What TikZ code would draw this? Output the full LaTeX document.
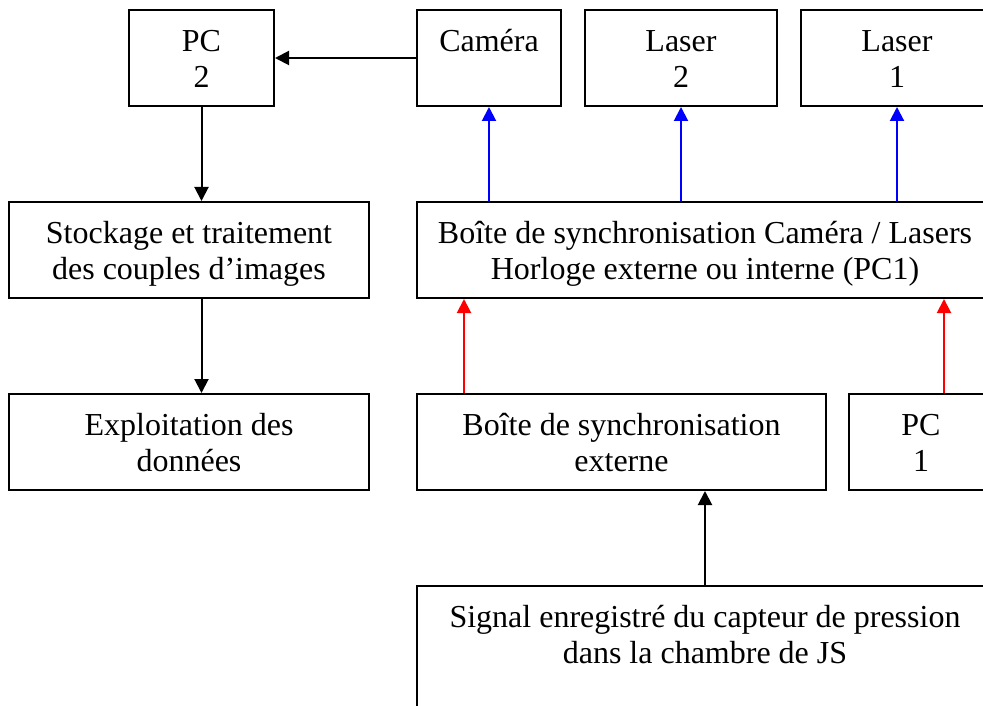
\documentclass[tikz,border=0pt]{standalone}
\usepackage{fontspec}
\setmainfont{Liberation Serif}
\usetikzlibrary{arrows.meta,calc}
\newcommand\tstrut{\rule{0pt}{30pt}}
\begin{document}
\begin{tikzpicture}[x=1pt,y=-1pt,
  box/.style={draw=black,line width=2pt,rectangle,inner sep=0pt},
  txt/.style={anchor=north,align=center,inner sep=0pt,font=\fontsize{32}{36.5}\selectfont},
  arr/.style={line width=2pt,-{Triangle[length=14pt,width=14pt]}},
]
\clip (0,0) rectangle (983,706);
\fill[white] (0,0) rectangle (983,706);
% row 1
\node[box,minimum width=145pt,minimum height=96pt] (pc2) at (201.5,58) {};
\node[box,minimum width=144pt,minimum height=96pt] (cam) at (489,58) {};
\node[box,minimum width=192pt,minimum height=96pt] (las2) at (681,58) {};
\node[box,minimum width=192pt,minimum height=96pt] (las1) at (897,58) {};
% row 2
\node[box,minimum width=360pt,minimum height=96pt] (sto) at (189,250) {};
\node[box,minimum width=576pt,minimum height=96pt] (syn) at (705,250) {};
% row 3
\node[box,minimum width=360pt,minimum height=96pt] (exp) at (189,442) {};
\node[box,minimum width=409pt,minimum height=96pt] (ext) at (621.5,442) {};
\node[box,minimum width=144pt,minimum height=96pt] (pc1) at (921,442) {};
% row 4
\node[box,minimum width=576pt,minimum height=134pt] (sig) at (705,653) {};
% texts
\node[txt] (tpc2) at ($(pc2.north)+(0,12)$) {\tstrut PC\\2};
\node[txt] (tcam) at ($(cam.north)+(0,12)$) {\tstrut Caméra};
\node[txt] (tlas2) at ($(las2.north)+(0,12)$) {\tstrut Laser\\2};
\node[txt] (tlas1) at ($(las1.north)+(0,12)$) {\tstrut Laser\\1};
\node[txt] (tsto) at ($(sto.north)+(0,12)$) {\tstrut Stockage et traitement\\des couples d’images};
\node[txt] (tsyn) at ($(syn.north)+(0,12)$) {\tstrut Boîte de synchronisation Caméra / Lasers\\Horloge externe ou interne (PC1)};
\node[txt] (texp) at ($(exp.north)+(0,12)$) {\tstrut Exploitation des\\données};
\node[txt] (text) at ($(ext.north)+(0,12)$) {\tstrut Boîte de synchronisation\\externe};
\node[txt] (tpc1) at ($(pc1.north)+(0,12)$) {\tstrut PC\\1};
\node[txt] (tsig) at ($(sig.north)+(0,12)$) {\tstrut Signal enregistré du capteur de pression\\dans la chambre de JS};
% coordinates
\coordinate (r1) at ($(ext.north west)+(48,0)$);
\coordinate (r2) at ($(pc1.north west)+(96,0)$);
% connectors
\draw[arr] (cam.west) -- (pc2.east);
\draw[arr] (pc2.south) -- (pc2.south |- sto.north);
\draw[arr] (sto.south -| pc2.south) -- (exp.north -| pc2.south);
\draw[arr,blue] (cam.south |- syn.north) -- (cam.south);
\draw[arr,blue] (las2.south |- syn.north) -- (las2.south);
\draw[arr,blue] (las1.south |- syn.north) -- (las1.south);
\draw[arr,red] (r1) -- (r1 |- syn.south);
\draw[arr,red] (r2) -- (r2 |- syn.south);
\draw[arr] (sig.north) -- (sig.north |- ext.south);
\end{tikzpicture}
\end{document}
